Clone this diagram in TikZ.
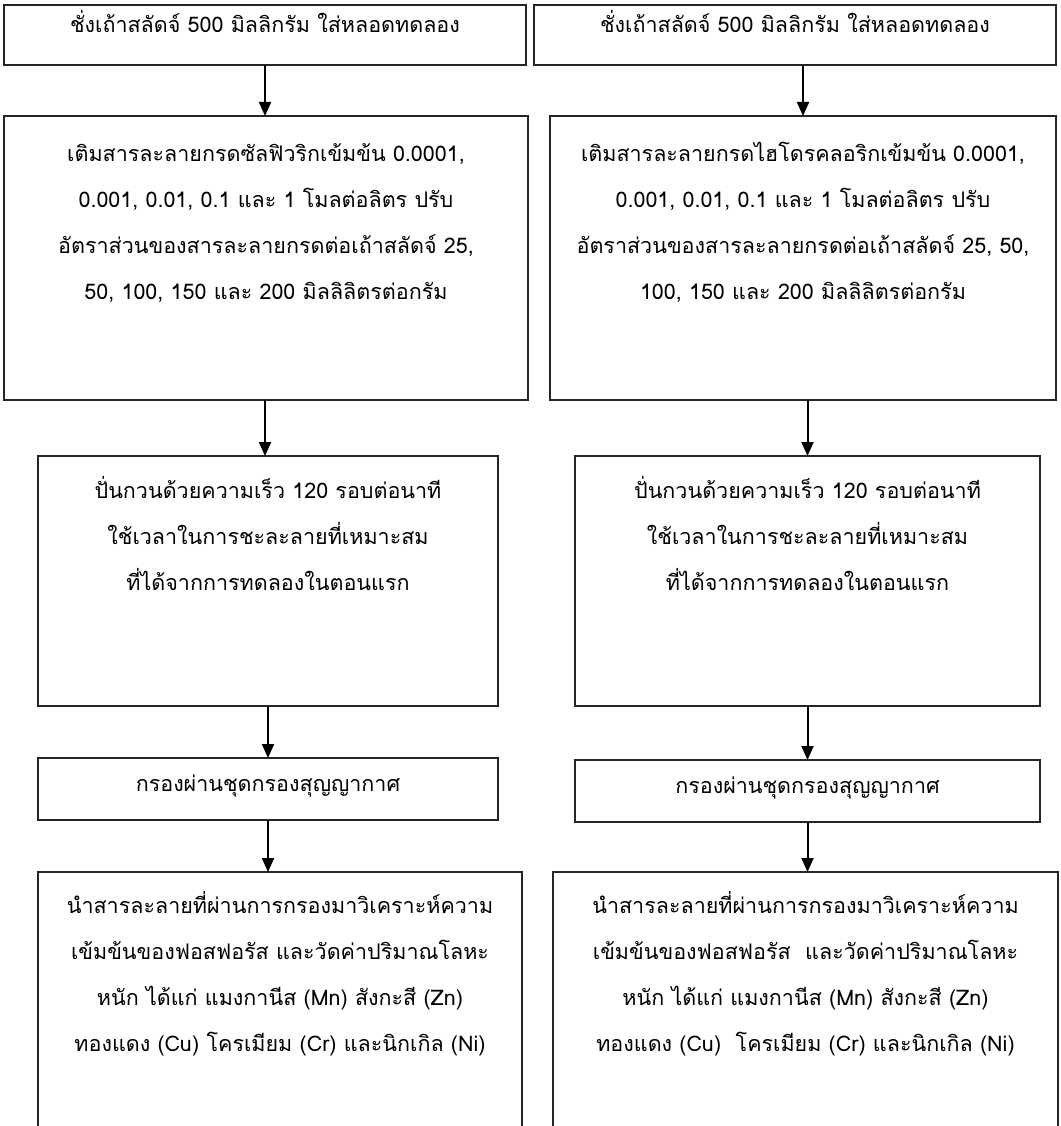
\documentclass[tikz,border=0pt]{standalone}
\usepackage{fontspec}
\setmainfont[Script=Thai]{Loma}
\usetikzlibrary{arrows.meta}
\newcommand\boxtxt[3]{\parbox[c][#2pt][t]{#1pt}{\centering\fontsize{21.5pt}{46pt}\selectfont\lineskiplimit=-30pt\lineskip=0pt#3}}
\newcommand\ffirst[2]{\makebox[\linewidth]{\rule{0pt}{#1pt}#2}\par}
\newcommand\fline[1]{\makebox[\linewidth]{#1}\par}
\tikzset{
  flowbox/.style={draw=black!85, line width=1.3pt, inner sep=0pt, outer sep=0pt, anchor=north west},
  flowarr/.style={line width=2pt, -{Triangle[width=12pt,length=14pt]}}
}
\begin{document}
\begin{tikzpicture}[x=1pt,y=-1pt]
\useasboundingbox (0,0) rectangle (1060,1126);
% left column
\node[flowbox] (l1) at (4,5) {\boxtxt{522}{60}{\ffirst{28}{ชั่งเถ้าสลัดจ์ 500 มิลลิกรัม ใส่หลอดทดลอง}}};
\node[flowbox] (l2) at (4,116) {\boxtxt{524}{284}{\ffirst{45}{เติมสารละลายกรดซัลฟิวริกเข้มข้น 0.0001,}\fline{0.001, 0.01, 0.1 และ 1 โมลต่อลิตร ปรับ}\fline{อัตราส่วนของสารละลายกรดต่อเถ้าสลัดจ์ 25,}\fline{50, 100, 150 และ 200 มิลลิลิตรต่อกรัม}}};
\node[flowbox] (l3) at (38,456) {\boxtxt{460}{250}{\ffirst{42}{ปั่นกวนด้วยความเร็ว 120 รอบต่อนาที}\fline{ใช้เวลาในการชะละลายที่เหมาะสม}\fline{ที่ได้จากการทดลองในตอนแรก}}};
\node[flowbox] (l4) at (38,758) {\boxtxt{460}{62}{\ffirst{33}{กรองผ่านชุดกรองสุญญากาศ}}};
\node[flowbox] (l5) at (38,872) {\boxtxt{484}{256}{\ffirst{41}{นำสารละลายที่ผ่านการกรองมาวิเคราะห์ความ}\fline{เข้มข้นของฟอสฟอรัส และวัดค่าปริมาณโลหะ}\fline{หนัก ได้แก่ แมงกานีส (Mn) สังกะสี (Zn)}\fline{ทองแดง (Cu) โครเมียม (Cr) และนิกเกิล (Ni)}}};
% right column
\node[flowbox] (r1) at (534,5) {\boxtxt{522}{60}{\ffirst{28}{ชั่งเถ้าสลัดจ์ 500 มิลลิกรัม ใส่หลอดทดลอง}}};
\node[flowbox] (r2) at (550,116) {\boxtxt{506}{284}{\ffirst{45}{เติมสารละลายกรดไฮโดรคลอริกเข้มข้น 0.0001,}\fline{0.001, 0.01, 0.1 และ 1 โมลต่อลิตร ปรับ}\fline{อัตราส่วนของสารละลายกรดต่อเถ้าสลัดจ์ 25, 50,}\fline{100, 150 และ 200 มิลลิลิตรต่อกรัม}}};
\node[flowbox] (r3) at (575,456) {\boxtxt{465}{250}{\ffirst{42}{ปั่นกวนด้วยความเร็ว 120 รอบต่อนาที}\fline{ใช้เวลาในการชะละลายที่เหมาะสม}\fline{ที่ได้จากการทดลองในตอนแรก}}};
\node[flowbox] (r4) at (575,760) {\boxtxt{465}{62}{\ffirst{33}{กรองผ่านชุดกรองสุญญากาศ}}};
\node[flowbox] (r5) at (553,872) {\boxtxt{505}{256}{\ffirst{41}{นำสารละลายที่ผ่านการกรองมาวิเคราะห์ความ}\fline{เข้มข้นของฟอสฟอรัส~ และวัดค่าปริมาณโลหะ}\fline{หนัก ได้แก่ แมงกานีส (Mn) สังกะสี (Zn)}\fline{ทองแดง (Cu)~ โครเมียม (Cr) และนิกเกิล (Ni)}}};
% arrows
\draw[flowarr] (l1.south) -- (l1.south |- l2.north);
\draw[flowarr] (l2.south -| l1.south) -- (l1.south |- l3.north);
\draw[flowarr] (l3.south) -- (l3.south |- l4.north);
\draw[flowarr] (l4.south) -- (l4.south |- l5.north);
\draw[flowarr] (r2.north |- r1.south) -- (r2.north);
\draw[flowarr] (r3.north |- r2.south) -- (r3.north);
\draw[flowarr] (r3.south) -- (r3.south |- r4.north);
\draw[flowarr] (r4.south) -- (r4.south |- r5.north);
\end{tikzpicture}
\end{document}
